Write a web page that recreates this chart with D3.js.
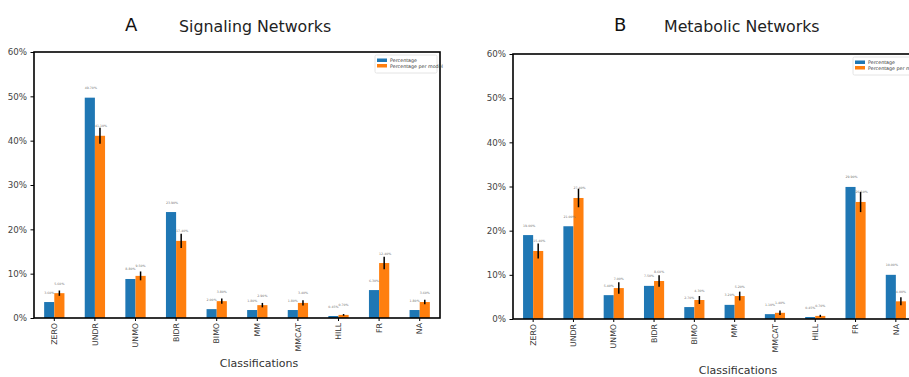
<!DOCTYPE html>
<html><head><meta charset="utf-8">
<script src="https://cdn.jsdelivr.net/npm/d3@7"></script>
<style>body{margin:0;background:#fff}svg{display:block}</style>
</head><body>
<svg id="c" width="909" height="377"></svg>
<script>
const categories = ["ZERO","UNDR","UNMO","BIDR","BIMO","MM","MMCAT","HILL","FR","NA"];
const seriesNames = ["Percentage","Percentage per model"];
const yTicks = [0,10,20,30,40,50,60];

const sigPercentage = [3.6,49.7,8.8,23.9,2.0,1.8,1.8,0.45,6.3,1.8];
const sigPerModel   = [5.6,41.1,9.5,17.4,3.8,2.9,3.4,0.7,12.4,3.6];
const sigPerModelErr= [0.6,1.8,1.0,1.6,0.6,0.5,0.6,0.2,1.4,0.5];

const metPercentage = [19.0,21.0,5.4,7.5,2.7,3.2,1.1,0.45,29.9,10.0];
const metPerModel   = [15.4,27.4,7.0,8.6,4.3,5.2,1.4,0.7,26.5,4.0];
const metPerModelErr= [1.7,2.1,1.3,1.3,0.9,1.0,0.5,0.25,2.3,0.9];

const colors = ["#1f77b4","#ff7f0e"];
const svg = d3.select("#c");
const font = "DejaVu Sans, sans-serif";

function panel(o){
  const g = svg.append("g");
  const x = d3.scaleBand().domain(categories).range([o.left,o.right]).padding(0);
  const y = d3.scaleLinear().domain([0,60]).range([o.bottom,o.top]);
  const step = x.step();
  const inner = d3.scaleBand().domain(seriesNames).range([0, step*0.5]).padding(0);
  const off = step*0.25;
  const data = [o.a, o.b];

  seriesNames.forEach((s,si)=>{
    g.selectAll(null).data(categories).enter().append("rect")
      .attr("x", c=>x(c)+off+inner(s))
      .attr("width", inner.bandwidth())
      .attr("y", (c,i)=>y(data[si][i]))
      .attr("height", (c,i)=>y(0)-y(data[si][i]))
      .attr("fill", colors[si]);
  });
  g.selectAll(null).data(categories).enter().append("line")
    .attr("x1", c=>x(c)+off+inner(seriesNames[1])+inner.bandwidth()/2)
    .attr("x2", c=>x(c)+off+inner(seriesNames[1])+inner.bandwidth()/2)
    .attr("y1", (c,i)=>y(o.b[i]-o.err[i]))
    .attr("y2", (c,i)=>y(o.b[i]+o.err[i]))
    .attr("stroke","#000").attr("stroke-width",1.5);
  seriesNames.forEach((s,si)=>{
    g.selectAll(null).data(categories).enter().append("text")
      .attr("x", c=>x(c)+off+inner(s))
      .attr("y", (c,i)=>y(data[si][i])-8.5)
      .attr("font-family",font).attr("font-size",3.2).attr("fill","#777")
      .text((c,i)=>d3.format(".2f")(data[si][i])+"%");
  });

  const ya = d3.axisLeft(y).tickValues(yTicks).tickFormat(d=>d+"%").tickSize(3.5).tickPadding(3.5);
  const yg = g.append("g").attr("transform",`translate(${o.left},0)`).call(ya);
  yg.select(".domain").remove();
  yg.selectAll(".tick line").attr("stroke","#000").attr("stroke-width",1);
  yg.selectAll("text").attr("font-family",font).attr("font-size",8.7).attr("fill","#444");

  const xa = d3.axisBottom(x).tickSize(3).tickPadding(3);
  const xg = g.append("g").attr("transform",`translate(0,${o.bottom})`).call(xa);
  xg.select(".domain").remove();
  xg.selectAll(".tick line").attr("stroke","#000");
  xg.selectAll("text").attr("font-family",font).attr("font-size",7.8).attr("fill","#333")
    .attr("transform","rotate(-90)").attr("text-anchor","end")
    .attr("x",-5).attr("y",0).attr("dy","0.35em");

  g.append("rect").attr("x",o.left).attr("y",o.top).attr("width",o.right-o.left).attr("height",o.bottom-o.top)
    .attr("fill","none").attr("stroke","#000").attr("stroke-width",1.6);

  g.append("text").attr("x",o.xlabelX).attr("y",o.xlabelY).attr("text-anchor","middle")
    .attr("font-family",font).attr("font-size",11).attr("fill","#333").text("Classifications");

  g.append("text").attr("x",o.letterX).attr("y",31).attr("font-family",font).attr("font-size",18).attr("fill","#111").text(o.letter);
  g.append("text").attr("x",o.titleX).attr("y",32).attr("font-family",font).attr("font-size",15.8).attr("fill","#222").text(o.title);

  const lg = g.append("g").attr("transform",`translate(${o.legX},${o.legY})`);
  lg.append("rect").attr("x",0).attr("y",0).attr("width",62).attr("height",18).attr("rx",1.5)
    .attr("fill","#fff").attr("stroke","#ddd").attr("stroke-width",0.8);
  seriesNames.forEach((s,si)=>{
    lg.append("rect").attr("x",2).attr("y",3.5+si*5.5).attr("width",10).attr("height",3.5).attr("fill",colors[si]);
    lg.append("text").attr("x",15).attr("y",7+si*5.5).attr("font-family",font).attr("font-size",4.8).attr("fill","#333").text(s);
  });
}

panel({left:34,right:440,top:52,bottom:318,a:sigPercentage,b:sigPerModel,err:sigPerModelErr,
  xlabelX:259,xlabelY:367,letter:"A",letterX:125,title:"Signaling Networks",titleX:179,legX:375,legY:55});
panel({left:513,right:916,top:54,bottom:319,a:metPercentage,b:metPerModel,err:metPerModelErr,
  xlabelX:738,xlabelY:374,letter:"B",letterX:614,title:"Metabolic Networks",titleX:664,legX:853,legY:57});
</script>
</body></html>
